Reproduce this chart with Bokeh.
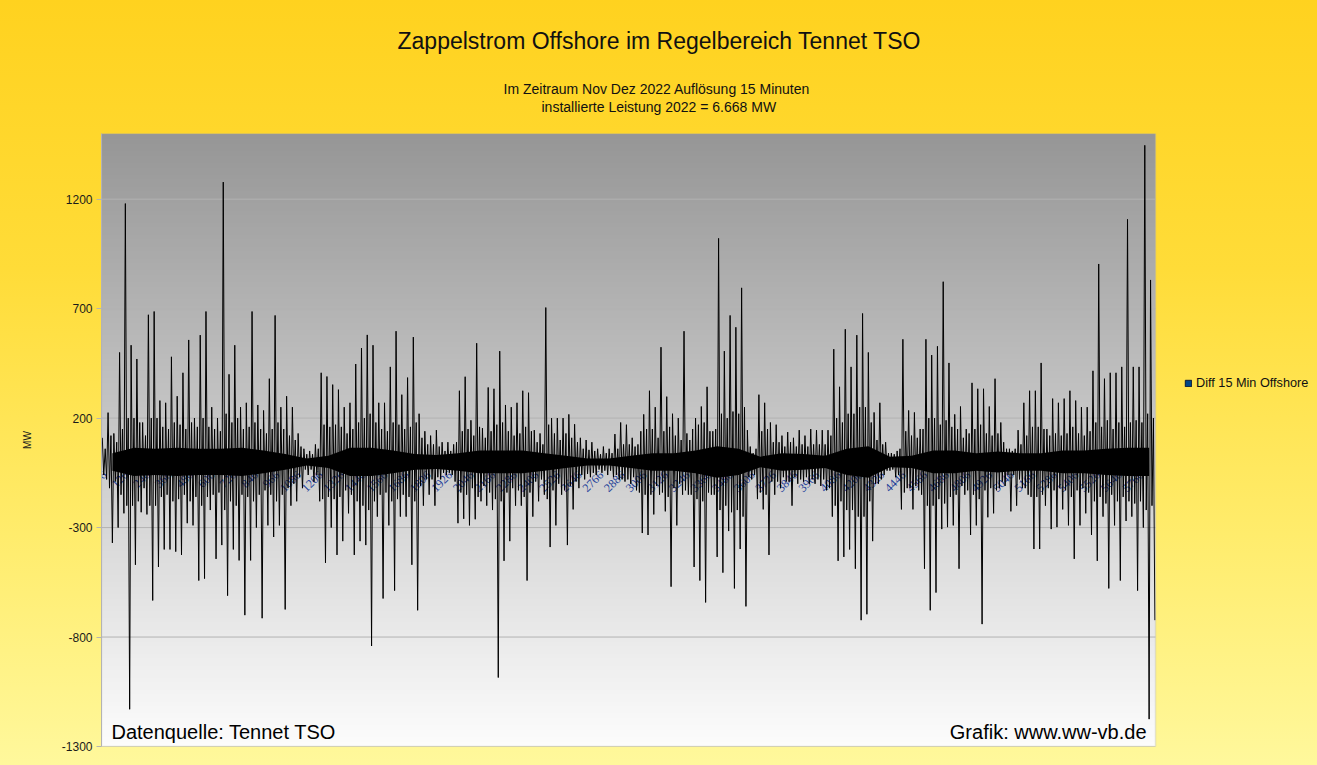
import numpy as np
from bokeh.plotting import figure
from bokeh.models import Range1d, FixedTicker, Legend, LegendItem, Title, Label, ColumnDataSource, BoxAnnotation
from bokeh.embed import file_html
from bokeh.resources import INLINE

# ---------------- data ----------------
N_SAMPLES = 5856          # Nov + Dec 2022, 15-minute resolution
GROUP = 32                # samples per group (8 hours)

# per 8-hour group: highest and lowest 15-min difference in MW
diff_hi = [110, 225, 130, 500, 1180, 533, 470, 180, 672, 687,
           280, 270, 480, 300, 407, 557, 200, 579, 687, 250,
           200, 1278, 400, 533, 250, 270, 687, 260, 235, 380,
           669, 250, 300, 250, 130, 60, 50, 80, 407, 390,
           353, 330, 250, 270, 447, 520, 580, 533, 270, 270,
           434, 597, 307, 385, 570, 220, 140, 120, 145, 90,
           90, 80, 325, 389, 190, 542, 154, 340, 334, 506,
           260, 250, 270, 325, 316, 145, 130, 705, 200, 200,
           200, 217, 172, 110, 100, 90, 60, 70, 60, 127,
           180, 170, 110, 80, 217, 325, 250, 524, 298, 220,
           200, 597, 100, 200, 253, 343, 140, 1021, 506, 669,
           615, 795, 145, 40, 307, 270, 180, 170, 120, 136,
           110, 145, 120, 150, 145, 145, 145, 515, 343, 606,
           434, 579, 678, 500, 226, 270, 90, 40, 50, 560,
           235, 226, 150, 560, 488, 528, 823, 452, 217, 253,
           150, 361, 334, 334, 253, 380, 180, 60, 50, 145,
           270, 325, 325, 452, 150, 289, 270, 289, 325, 280,
           250, 250, 416, 904, 380, 407, 407, 434, 1108, 434,
           434, 1446, 831]
diff_lo = [-80, -370, -300, -235, -1130, -470, -230, -240, -633, -480,
           -400, -400, -410, -425, -280, -290, -542, -533, -220, -443,
           -380, -611, -400, -450, -700, -450, -300, -714, -290, -343,
           -290, -674, -200, -180, -120, -60, -90, -180, -461, -300,
           -425, -362, -235, -425, -362, -380, -841, -250, -624, -290,
           -588, -250, -250, -470, -678, -200, -150, -200, -80, -60,
           -60, -280, -260, -290, -262, -180, -200, -220, -985, -452,
           -362, -200, -200, -542, -250, -180, -150, -389, -290, -150,
           -380, -217, -120, -80, -70, -60, -50, -60, -70, -80,
           -90, -100, -130, -325, -334, -240, -150, -226, -570, -290,
           -150, -150, -480, -542, -642, -150, -434, -506, -316, -578,
           -398, -660, -80, -170, -217, -425, -150, -120, -90, -200,
           -100, -90, -100, -100, -110, -130, -250, -452, -434, -400,
           -488, -723, -696, -362, -100, -60, -40, -70, -217, -120,
           -217, -130, -488, -678, -597, -307, -298, -290, -488, -150,
           -334, -290, -741, -253, -235, -120, -110, -226, -200, -120,
           -150, -398, -398, -200, -307, -298, -217, -290, -443, -290,
           -235, -334, -452, -250, -578, -290, -542, -270, -250, -588,
           -300, -1175, -723]
# per 8-hour group: typical size of the frequent swings (MW)
diff_mid = [60, 120, 90, 150, 200, 200, 180, 120, 200, 200,
            160, 150, 180, 170, 150, 180, 160, 200, 160, 150,
            140, 220, 180, 200, 150, 160, 180, 150, 130, 150,
            180, 150, 120, 100, 70, 35, 35, 60, 170, 160,
            170, 160, 130, 150, 180, 200, 220, 180, 150, 140,
            180, 170, 150, 160, 180, 110, 80, 80, 70, 50,
            50, 90, 140, 150, 120, 160, 110, 140, 170, 180,
            140, 120, 130, 160, 140, 90, 80, 170, 130, 100,
            130, 110, 90, 60, 55, 50, 35, 40, 40, 60,
            80, 80, 70, 140, 150, 150, 110, 140, 160, 120,
            100, 130, 150, 170, 180, 140, 150, 220, 200, 230,
            220, 250, 70, 60, 140, 150, 90, 90, 70, 90,
            70, 80, 70, 80, 80, 80, 120, 200, 180, 220,
            220, 250, 250, 180, 100, 80, 40, 35, 60, 140,
            120, 110, 150, 200, 200, 170, 190, 160, 150, 110,
            130, 150, 170, 130, 120, 130, 90, 60, 60, 80,
            120, 160, 160, 150, 120, 130, 120, 130, 160, 130,
            120, 140, 180, 160, 190, 150, 180, 160, 180, 190,
            180, 220, 200]

# amplitude of the solid band around zero, per 120 samples (MW)
band_amp = [40, 65, 60, 65, 60, 60, 65, 52, 36, 16,
            28, 65, 65, 52, 36, 32, 40, 52, 52, 52,
            40, 28, 16, 16, 28, 40, 40, 52, 72, 60,
            24, 40, 36, 28, 60, 72, 24, 28, 52, 52,
            40, 48, 40, 40, 52, 52, 60, 65, 65]

# category axis labels (every 120th category)
x_labels = ["6", "126", "246", "366", "486", "606", "726", "846", "966", "1086",
            "1206", "1326", "1446", "1566", "1686", "1806", "1926", "2046", "2166", "2286",
            "2406", "2526", "2646", "2766", "2886", "3006", "3126", "3246", "3366", "3486",
            "3606", "3726", "3846", "3966", "4086", "4206", "4326", "4446", "4566", "4686",
            "4806", "4926", "5046", "5166", "5286", "5406", "5526", "5646", "5766"]
y_ticks = [-1300, -800, -300, 200, 700, 1200]
Y_MIN, Y_MAX = -1300, 1500

TITLE = "Zappelstrom Offshore im Regelbereich Tennet TSO"
SUB1 = "Im Zeitraum Nov Dez 2022 Auflösung 15 Minuten"
SUB2 = "installierte Leistung 2022 = 6.668 MW"
SERIES = "Diff 15 Min Offshore"

FONT = "Liberation Sans"

# ---------------- layout (pixels) ----------------
W, H = 1317, 765
LEFT, TOP, BOTTOM = 101, 133, 19
PLOT_W = 1054                      # width of the chart's plot area
FRAME_W = W - LEFT                 # frame extends to the right edge (legend lives there)
x_start = -0.5
x_end = x_start + N_SAMPLES * FRAME_W / PLOT_W
x_data_end = N_SAMPLES - 0.5

p = figure(width=W, height=H, output_backend="svg", toolbar_location=None,
           x_range=Range1d(x_start, x_end), y_range=Range1d(Y_MIN, Y_MAX),
           min_border_left=LEFT, min_border_right=0, min_border_top=TOP,
           min_border_bottom=BOTTOM, title=None)
p.styles = {"background": "linear-gradient(180deg, #ffd21f 0%, #ffdc38 35%, #ffec6c 70%, #fff89c 100%)"}
p.border_fill_alpha = 0
p.background_fill_alpha = 0
p.outline_line_color = None

# titles (stacked from the plot outwards)
p.add_layout(Title(text=" ", align="left", text_font=FONT, text_font_size="14px", standoff=1), "above")
p.add_layout(Title(text=SUB2, align="left", offset=440, text_font=FONT, text_font_size="14px",
                   text_font_style="normal", text_color="#111111", standoff=0), "above")
p.add_layout(Title(text=SUB1, align="left", offset=402, text_font=FONT, text_font_size="14px",
                   text_font_style="normal", text_color="#111111", standoff=0), "above")
p.add_layout(Title(text=TITLE, align="left", offset=296, text_font=FONT, text_font_size="23px",
                   text_font_style="normal", text_color="#111111", standoff=49), "above")

# plot-area gray gradient
n = 256
t = np.linspace(0.0, 1.0, n)
g = np.round(252 - t * (252 - 150)).astype(np.uint8)
img = np.empty((n, 1), dtype=np.uint32)
view = img.view(dtype=np.uint8).reshape((n, 1, 4))
view[:, 0, 0] = g
view[:, 0, 1] = g
view[:, 0, 2] = g
view[:, 0, 3] = 255
p.image_rgba(image=[img], x=x_start, y=Y_MIN, dw=N_SAMPLES, dh=Y_MAX - Y_MIN, level="image")

# grid lines inside the plot area only
p.xgrid.visible = False
p.ygrid.visible = False
p.segment(x0=[x_start] * len(y_ticks), x1=[x_data_end] * len(y_ticks), y0=y_ticks, y1=y_ticks,
          line_color="#b3b3b3", line_width=1)

# axes
p.xaxis.visible = False
yax = p.yaxis[0]
yax.ticker = FixedTicker(ticks=y_ticks)
yax.major_label_overrides = {v: str(v) for v in y_ticks}
yax.axis_line_color = "#b3b3b3"
yax.major_tick_line_color = "#b3b3b3"
yax.major_tick_out = 5
yax.major_tick_in = 0
yax.minor_tick_out = 0
yax.minor_tick_in = 0
yax.major_label_text_font = FONT
yax.major_label_text_font_size = "12px"
yax.major_label_text_color = "#1a1a1a"
yax.major_label_standoff = 4
yax.axis_label = "MW"
yax.axis_label_text_font = FONT
yax.axis_label_text_font_size = "10px"
yax.axis_label_text_font_style = "normal"
yax.axis_label_text_color = "#1a1a1a"
yax.axis_label_standoff = 26

# category labels along the zero line
lab_src = ColumnDataSource(dict(x=[int(s) - 6 for s in x_labels], y=[0] * len(x_labels), text=x_labels))
p.text(x="x", y="y", text="text", source=lab_src, angle=np.pi / 4,
       text_align="right", text_baseline="middle", x_offset=3, y_offset=11,
       text_font=FONT, text_font_size="12px", text_color="#1f3f99")

# solid band around zero
band_x = [k * 120 + 60 for k in range(len(band_amp))]
p.varea(x=band_x, y1=[-a for a in band_amp], y2=band_amp, fill_color="black")

# the 15-minute differences: per group max, -typical, +typical, min
gi = np.arange(len(diff_hi))
xs = np.empty(4 * len(diff_hi))
ys = np.empty(4 * len(diff_hi))
xs[0::4] = gi * GROUP + 4
xs[1::4] = gi * GROUP + 12
xs[2::4] = gi * GROUP + 20
xs[3::4] = gi * GROUP + 28
ys[0::4] = diff_hi
ys[1::4] = [-m for m in diff_mid]
ys[2::4] = diff_mid
ys[3::4] = diff_lo
p.line(xs, ys, line_color="black", line_width=1)

# plot-area border
p.add_layout(BoxAnnotation(left=x_start, right=x_data_end, bottom=Y_MIN, top=Y_MAX,
                           fill_alpha=0, line_color="#b3b3b3", line_width=1.5))

# text inside the plot area
p.add_layout(Label(x=x_start, y=Y_MIN, x_offset=10, y_offset=4, text="Datenquelle: Tennet TSO",
                   text_font=FONT, text_font_size="20px", text_color="black",
                   text_baseline="bottom", text_align="left"))
p.add_layout(Label(x=x_data_end, y=Y_MIN, x_offset=-9, y_offset=4, text="Grafik: www.ww-vb.de",
                   text_font=FONT, text_font_size="20px", text_color="black",
                   text_baseline="bottom", text_align="right"))

# legend key (a zero-size proxy so the legend has a filled square to draw)
leg_src = ColumnDataSource(dict(left=[x_start], right=[x_start], top=[Y_MIN], bottom=[Y_MIN]))
leg_r = p.quad(left="left", right="right", top="top", bottom="bottom", source=leg_src,
               fill_color="#004586", line_color="#0d1b33", line_width=1)
legend = Legend(items=[LegendItem(label=SERIES, renderers=[leg_r])], location=(1083, 356),
                background_fill_alpha=0, border_line_alpha=0, glyph_width=8, glyph_height=8,
                label_text_font=FONT, label_text_font_size="12.7px", label_text_color="#111111",
                padding=0, margin=0, spacing=0, label_standoff=4, label_height=14)
p.add_layout(legend, "center")

open("out.html", "w").write(file_html(p, INLINE))
